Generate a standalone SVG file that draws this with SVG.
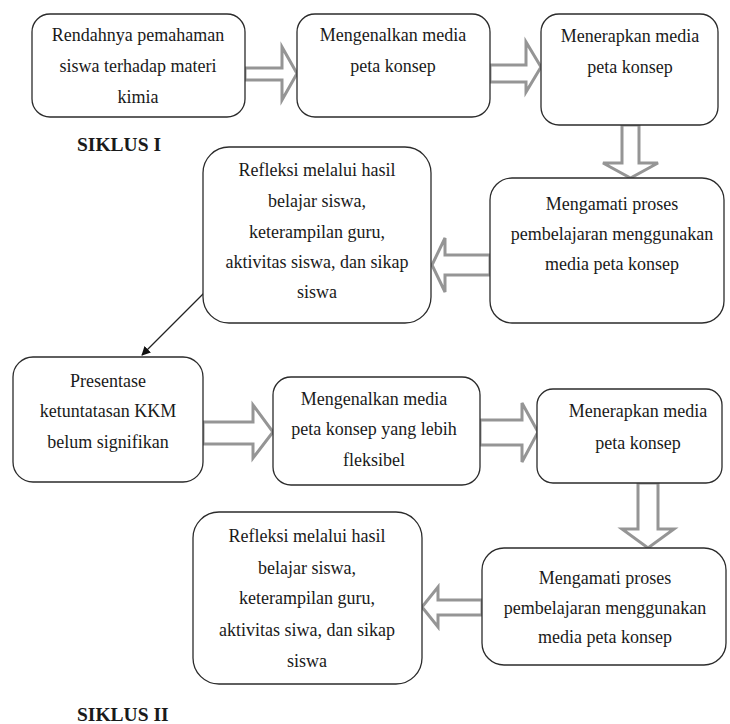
<svg xmlns="http://www.w3.org/2000/svg" width="730" height="724" viewBox="0 0 730 724">
<defs>
<style>
.box{fill:#fff;stroke:#2b2b2b;stroke-width:1.3}
.t{font-family:"Liberation Serif","Times New Roman",serif;font-size:18px;fill:#1a1a1a;text-anchor:middle}
.h{font-family:"Liberation Serif","Times New Roman",serif;font-size:19.5px;font-weight:bold;fill:#1a1a1a}
.blk{fill:#fff;stroke:#959595;stroke-width:3;stroke-linejoin:miter}
.ln{stroke:#222;stroke-width:1.3;fill:none}
</style>
<marker id="ah" viewBox="0 0 10 10" refX="9" refY="5" markerWidth="9" markerHeight="9" markerUnits="userSpaceOnUse" orient="auto">
<path d="M0,0 L10,5 L0,10 z" fill="#111"/>
</marker>
</defs>
<rect width="730" height="724" fill="#fff"/>

<g id="connectors">
<polygon class="blk" points="245,68 282,68 282,47 297,73.5 282,100 282,80 245,80"/>
<polygon class="blk" points="490,65 526,65 526,42 541,67 526,92 526,82 490,82"/>
<polygon class="blk" points="622,125 639,125 639,163 658,163 630.5,178 603,163 622,163"/>
<polygon class="blk" points="490,255 445,255 445,238 432,265 445,292 445,275 490,275"/>
<line class="ln" x1="204" y1="293" x2="142" y2="355" marker-end="url(#ah)"/>
<polygon class="blk" points="203,422 253,422 253,405 273,432 253,458 253,444 203,444"/>
<polygon class="blk" points="480,420 522,420 522,403 538,432 522,462 522,445 480,445"/>
<polygon class="blk" points="638,483 658,483 658,529 674,529 648,548 622,529 638,529"/>
<polygon class="blk" points="482,600 438,600 438,587 422,607 438,627 438,615 482,615"/>
</g>

<g id="n1">
<rect class="box" x="32" y="14" width="213" height="103" rx="18"/>
<text class="t" x="138" y="41">Rendahnya pemahaman</text>
<text class="t" x="138" y="72">siswa terhadap materi</text>
<text class="t" x="138" y="103">kimia</text>
</g>
<g id="n2">
<rect class="box" x="297" y="14" width="193" height="103" rx="18"/>
<text class="t" x="393" y="41">Mengenalkan media</text>
<text class="t" x="393" y="72">peta konsep</text>
</g>
<g id="n3">
<rect class="box" x="541" y="14" width="177" height="111" rx="18"/>
<text class="t" x="630" y="42">Menerapkan media</text>
<text class="t" x="630" y="73">peta konsep</text>
</g>
<g id="label1">
<text class="h" x="77" y="151">SIKLUS I</text>
</g>
<g id="n4">
<rect class="box" x="490" y="178" width="234" height="145" rx="22"/>
<text class="t" x="612" y="210">Mengamati proses</text>
<text class="t" x="612" y="240">pembelajaran menggunakan</text>
<text class="t" x="612" y="270">media peta konsep</text>
</g>
<g id="n5">
<rect class="box" x="203" y="147" width="228" height="176" rx="26"/>
<text class="t" x="317" y="176">Refleksi melalui hasil</text>
<text class="t" x="317" y="207">belajar siswa,</text>
<text class="t" x="317" y="238">keterampilan guru,</text>
<text class="t" x="317" y="268">aktivitas siswa, dan sikap</text>
<text class="t" x="317" y="298">siswa</text>
</g>
<g id="n6">
<rect class="box" x="13" y="357" width="190" height="125" rx="20"/>
<text class="t" x="108" y="387">Presentase</text>
<text class="t" x="108" y="417">ketuntatasan KKM</text>
<text class="t" x="108" y="448">belum signifikan</text>
</g>
<g id="n7">
<rect class="box" x="273" y="377" width="207" height="108" rx="18"/>
<text class="t" x="374" y="405">Mengenalkan media</text>
<text class="t" x="374" y="435">peta konsep yang lebih</text>
<text class="t" x="374" y="466">fleksibel</text>
</g>
<g id="n8">
<rect class="box" x="537" y="389" width="185" height="94" rx="16"/>
<text class="t" x="638" y="417">Menerapkan media</text>
<text class="t" x="638" y="449">peta konsep</text>
</g>
<g id="n9">
<rect class="box" x="482" y="548" width="244" height="117" rx="22"/>
<text class="t" x="605" y="584">Mengamati proses</text>
<text class="t" x="605" y="614">pembelajaran menggunakan</text>
<text class="t" x="605" y="643">media peta konsep</text>
</g>
<g id="n10">
<rect class="box" x="193" y="512" width="229" height="172" rx="26"/>
<text class="t" x="307" y="542">Refleksi melalui hasil</text>
<text class="t" x="307" y="574">belajar siswa,</text>
<text class="t" x="307" y="604">keterampilan guru,</text>
<text class="t" x="307" y="636">aktivitas siwa, dan sikap</text>
<text class="t" x="307" y="667">siswa</text>
</g>
<g id="label2">
<text class="h" x="77" y="721">SIKLUS II</text>
</g>
</svg>
